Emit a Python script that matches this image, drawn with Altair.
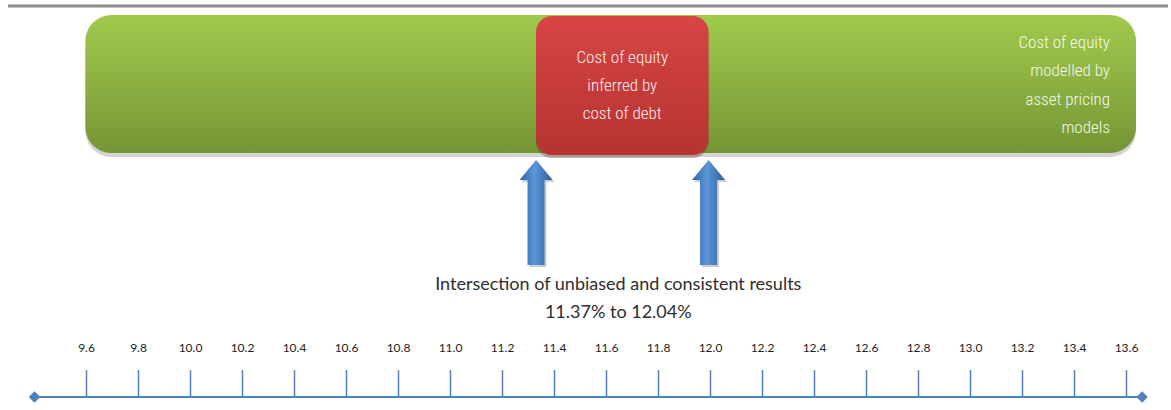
import altair as alt
import pandas as pd

# Bottom percentage axis
tick_values = [9.6, 9.8, 10.0, 10.2, 10.4, 10.6, 10.8, 11.0, 11.2, 11.4, 11.6,
               11.8, 12.0, 12.2, 12.4, 12.6, 12.8, 13.0, 13.2, 13.4, 13.6]
tick_labels = [f"{v:.1f}" for v in tick_values]
axis_ends = [9.4, 13.66]

# Ranges of the cost of equity estimates (%)
model_range = [9.62, 13.70]   # modelled by asset pricing models
debt_range = [11.37, 12.04]   # inferred by cost of debt

model_lines = ["Cost of equity", "modelled  by", "asset pricing", "models"]
debt_lines = ["Cost of equity", "inferred by", "cost of debt"]
caption = "Intersection of unbiased and consistent results"
range_text = f"{debt_range[0]:.2f}% to {debt_range[1]:.2f}%"

W, H = 1171, 410
NARROW = "Liberation Sans Narrow, Arial Narrow, Roboto Condensed, sans-serif"
BODY = "Lato, Carlito, Calibri, sans-serif"
AXIS_BLUE = "#4f81bd"

# schematic scale (boxes and arrows) and axis scale
top_scale = alt.Scale(domain=[9.2884, 13.8360], nice=False, zero=False)
axis_scale = alt.Scale(domain=[9.2673, 13.7711], nice=False, zero=False)


def tx(field):
    return alt.X(field, type="quantitative", scale=top_scale, axis=None)


def ax(field):
    return alt.X(field, type="quantitative", scale=axis_scale, axis=None)


one = pd.DataFrame({"k": [0]})
band_df = pd.DataFrame({"lo": [model_range[0]], "hi": [model_range[1]]})
box_df = pd.DataFrame({"lo": [debt_range[0]], "hi": [debt_range[1]]})
arrow_df = pd.DataFrame({"v": debt_range})
ticks_df = pd.DataFrame({"v": tick_values, "label": tick_labels})
ends_df = pd.DataFrame({"v": axis_ends})
line_df = pd.DataFrame({"lo": [axis_ends[0]], "hi": [axis_ends[1]]})

green = alt.LinearGradient(
    gradient="linear", x1=0, x2=0, y1=0, y2=1,
    stops=[alt.GradientStop(offset=0, color="#a1ca4d"),
           alt.GradientStop(offset=1, color="#759635")])
red = alt.LinearGradient(
    gradient="linear", x1=0, x2=0, y1=0, y2=1,
    stops=[alt.GradientStop(offset=0, color="#d84545"),
           alt.GradientStop(offset=1, color="#b53331")])
blue = alt.LinearGradient(
    gradient="linear", x1=0, x2=1, y1=0, y2=0,
    stops=[alt.GradientStop(offset=0, color="#2d64aa"),
           alt.GradientStop(offset=0.45, color="#5b97d6"),
           alt.GradientStop(offset=1, color="#2a5d9e")])

ARROW = ("M0,-1 L0.314,-0.62 L0.162,-0.62 L0.162,1 L-0.162,1 "
         "L-0.162,-0.62 L-0.314,-0.62 Z")

top_rule = alt.Chart(one).mark_rule(color="#8c8c8c", strokeWidth=3).encode(
    x=alt.value(8), x2=alt.value(W - 3), y=alt.value(6))

band_shadow = alt.Chart(band_df).mark_rect(
    cornerRadius=26, color="#808080", opacity=0.35).encode(
    x=tx("lo"), x2="hi", y=alt.value(18), y2=alt.value(157))
band = alt.Chart(band_df).mark_rect(cornerRadius=26, fill=green).encode(
    x=tx("lo"), x2="hi", y=alt.value(15), y2=alt.value(153))

box_shadow = alt.Chart(box_df).mark_rect(
    cornerRadius=16, color="#5a2a2a", opacity=0.35).encode(
    x=tx("lo"), x2="hi", y=alt.value(19), y2=alt.value(158))
box = alt.Chart(box_df).mark_rect(cornerRadius=16, fill=red).encode(
    x=tx("lo"), x2="hi", y=alt.value(16), y2=alt.value(155))

# multi-line labels: y is the first line's centre
box_text = alt.Chart(box_df).transform_calculate(
    mid="(datum.lo + datum.hi) / 2").mark_text(
    text=debt_lines, font=NARROW, fontSize=17, fontWeight=300,
    color="#fdf0f0", lineHeight=28, align="center", baseline="middle").encode(
    x=tx("mid"), y=alt.value(58))

band_text = alt.Chart(band_df).mark_text(
    text=model_lines, font=NARROW, fontSize=17, fontWeight=300,
    color="#f5f9ea", lineHeight=28.4, align="right", baseline="middle",
    dx=-26).encode(x=tx("hi"), y=alt.value(43))

arrow_shadow = alt.Chart(arrow_df).mark_point(
    shape=ARROW, filled=True, size=105 ** 2, color="#555555",
    opacity=0.3, strokeWidth=0, xOffset=2, yOffset=2).encode(
    x=tx("v"), y=alt.value(212.5))
arrows = alt.Chart(arrow_df).mark_point(
    shape=ARROW, filled=True, size=105 ** 2, fill=blue, opacity=1,
    strokeWidth=0).encode(x=tx("v"), y=alt.value(212.5))

cap_df = box_df.assign(t1=caption, t2=range_text)
caption_1 = alt.Chart(cap_df).transform_calculate(
    mid="(datum.lo + datum.hi) / 2").mark_text(
    font=BODY, fontSize=18, color="#2e2e2e", baseline="middle",
    dx=-4).encode(x=tx("mid"), y=alt.value(285), text="t1:N")
caption_2 = alt.Chart(cap_df).transform_calculate(
    mid="(datum.lo + datum.hi) / 2").mark_text(
    font=BODY, fontSize=18, color="#2e2e2e", baseline="middle",
    dx=-4).encode(x=tx("mid"), y=alt.value(313), text="t2:N")

baseline = alt.Chart(line_df).mark_rule(
    color=AXIS_BLUE, strokeWidth=2).encode(
    x=ax("lo"), x2="hi", y=alt.value(397))
ends = alt.Chart(ends_df).mark_point(
    shape="diamond", filled=True, size=130, color=AXIS_BLUE, opacity=1).encode(
    x=ax("v"), y=alt.value(397))
ticks = alt.Chart(ticks_df).mark_rule(
    color=AXIS_BLUE, strokeWidth=1.5).encode(
    x=ax("v"), y=alt.value(370), y2=alt.value(397))
labels = alt.Chart(ticks_df).mark_text(
    font=BODY, fontSize=12, color="#222222", baseline="middle").encode(
    x=ax("v"), y=alt.value(348), text="label:N")

chart = alt.layer(
    top_rule, band_shadow, band, box_shadow, box, box_text, band_text,
    arrow_shadow, arrows, caption_1, caption_2,
    baseline, ends, ticks, labels,
).resolve_scale(x="independent").properties(
    width=W, height=H, padding=0, autosize="none", background="white"
).configure_view(stroke=None)

chart.save("out.html", embed_options={"renderer": "svg", "actions": False})
